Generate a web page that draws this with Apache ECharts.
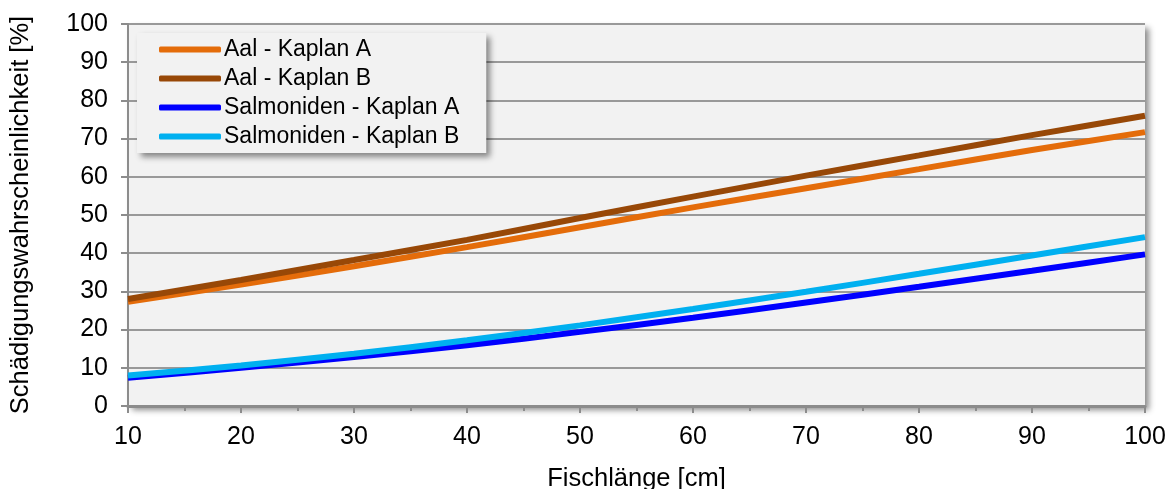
<!DOCTYPE html>
<html>
<head>
<meta charset="utf-8">
<script src="https://cdn.jsdelivr.net/npm/echarts@6/dist/echarts.min.js"></script>
<style>html,body{margin:0;padding:0;background:#fff}#c{width:1172px;height:489px}</style>
</head>
<body>
<div id="c"></div>
<script>
const lengths = [10, 20, 30, 40, 50, 60, 70, 80, 90, 100];
const aalA = [27.3, 31.8, 36.6, 41.6, 46.8, 52.0, 57.0, 62.0, 67.0, 71.7];
const aalB = [28.0, 33.0, 38.2, 43.5, 49.2, 54.8, 60.3, 65.6, 70.9, 76.0];
const salmA = [7.4, 10.0, 12.8, 15.9, 19.4, 23.1, 27.1, 31.2, 35.4, 39.7];
const salmB = [8.0, 10.6, 13.7, 17.2, 21.1, 25.4, 29.9, 34.6, 39.4, 44.2];
const seriesNames = ['Aal - Kaplan A', 'Aal - Kaplan B', 'Salmoniden - Kaplan A', 'Salmoniden - Kaplan B'];
const seriesColors = ['#E46C0A', '#984807', '#0000FF', '#00B0F0'];
const seriesData = [aalA, aalB, salmA, salmB];

const font = '"Liberation Sans", Arial, sans-serif';
const chart = echarts.init(document.getElementById('c'), null, {renderer: 'canvas'});
chart.setOption({
  animation: false,
  backgroundColor: '#fff',
  grid: {
    left: 128, right: 27, top: 24, bottom: 83,
    outerBoundsMode: 'none', containLabel: false,
    show: true, backgroundColor: '#f2f2f2', borderWidth: 0,
    shadowBlur: 6, shadowColor: 'rgba(0,0,0,0.45)', shadowOffsetX: 4, shadowOffsetY: 4
  },
  legend: {
    orient: 'vertical', left: 137, top: 33,
    backgroundColor: '#f2f2f2',
    shadowBlur: 6, shadowColor: 'rgba(0,0,0,0.45)', shadowOffsetX: 4, shadowOffsetY: 4,
    padding: [5, 27, 5, 22], itemGap: 6,
    itemWidth: 62, itemHeight: 6, icon: 'roundRect',
    textStyle: {fontFamily: font, fontSize: 23, color: '#000', lineHeight: 23, padding: [0, 0, 0, -2]},
    data: seriesNames
  },
  xAxis: {
    type: 'value', min: 10, max: 100, interval: 10,
    name: 'Fischlänge [cm]', nameLocation: 'middle', nameGap: 60,
    nameTextStyle: {fontFamily: font, fontSize: 25.5, color: '#000'},
    axisLine: {show: true, onZero: false, lineStyle: {color: '#8c8c8c', width: 3}},
    axisTick: {show: true, length: 7, lineStyle: {color: '#8c8c8c', width: 2}},
    minorTick: {show: true, splitNumber: 2, length: 5, lineStyle: {color: '#8c8c8c', width: 2}},
    axisLabel: {fontFamily: font, fontSize: 25, color: '#000', margin: 19},
    splitLine: {show: false}
  },
  yAxis: {
    type: 'value', min: 0, max: 100, interval: 10,
    name: 'Schädigungswahrscheinlichkeit [%]', nameLocation: 'middle', nameGap: 94,
    nameTextStyle: {fontFamily: font, fontSize: 25.5, color: '#000'},
    axisLine: {show: true, lineStyle: {color: '#8c8c8c', width: 2}},
    axisTick: {show: true, length: 7, lineStyle: {color: '#8c8c8c', width: 2}},
    axisLabel: {fontFamily: font, fontSize: 25, color: '#000', margin: 20},
    splitLine: {show: true, lineStyle: {color: '#999', width: 2}}
  },
  series: seriesData.map((d, i) => ({
    name: seriesNames[i], type: 'line', smooth: 0.3, showSymbol: false, symbol: 'none',
    data: d.map((v, j) => [lengths[j], v]),
    lineStyle: {color: seriesColors[i], width: 6},
    itemStyle: {color: seriesColors[i]}
  }))
});
</script>
</body>
</html>
